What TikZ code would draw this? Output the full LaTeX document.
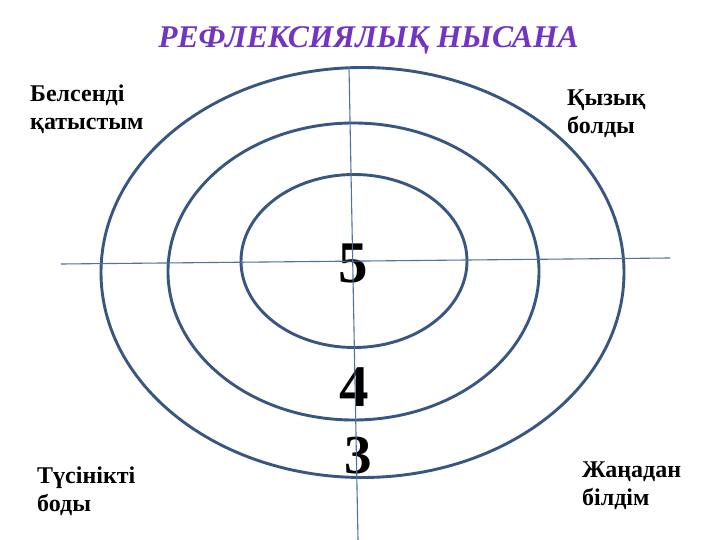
\documentclass[tikz,border=0pt]{standalone}
\usepackage{fontspec}
\setmainfont{Liberation Serif}
\definecolor{ringblue}{RGB}{56,86,130}
\definecolor{axisblue}{RGB}{79,113,163}
\definecolor{titlepurple}{RGB}{114,52,196}
\tikzset{
  ring/.style={draw=ringblue, line width=2.9pt},
  axis/.style={draw=axisblue, line width=1.1pt},
  lbl/.style={anchor=north west, inner sep=0pt, align=left, font=\bfseries\fontsize{24}{28}\selectfont},
  digit/.style={inner sep=0pt, font=\bfseries\fontsize{59}{60}\selectfont},
}
\begin{document}
\begin{tikzpicture}[x=1pt,y=-1pt]
\useasboundingbox (0,0) rectangle (720,540);
\fill[white] (0,0) rectangle (720,540);
% title
\node[anchor=base, inner sep=0pt, text=titlepurple, font=\bfseries\itshape\fontsize{31.6}{34}\selectfont] (title) at (368.5,48) {РЕФЛЕКСИЯЛЫҚ НЫСАНА};
% rings
\draw[ring] (362.5,272.5) ellipse [x radius=261.5pt, y radius=205pt];
\draw[ring] (353.5,271.5) ellipse [x radius=185.5pt, y radius=148.5pt];
\draw[ring] (354,261) ellipse [x radius=113pt, y radius=86.5pt];
% digits
\node[digit] (d5) at (353,263) {5};
\node[digit] (d4) at (354,387) {4};
\node[digit, font=\bfseries\fontsize{55}{56}\selectfont] (d3) at (358,456) {3};
% axes
\coordinate (hl) at (61,264);
\coordinate (hr) at (670,258);
\coordinate (vt) at (349,67);
\coordinate (vb) at (358,540);
\draw[axis] (hl) -- (hr);
\draw[axis] (vt) -- (vb);
% corner labels
\node[lbl] (tl) at (30,85) {Белсенді\\қатыстым};
\node[lbl] (tr) at (567,90) {Қызық\\болды};
\node[lbl] (bl) at (37,467) {Түсінікті\\боды};
\node[lbl] (br) at (582,462) {Жаңадан\\білдім};
\end{tikzpicture}
\end{document}
